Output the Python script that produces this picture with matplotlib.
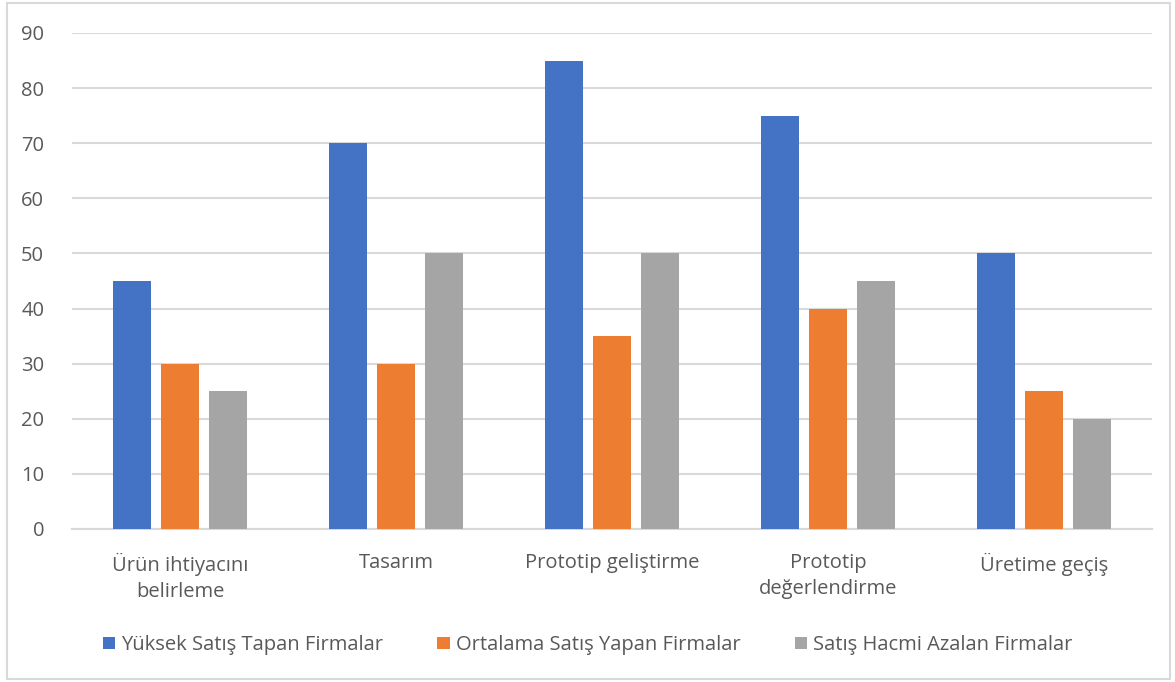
import matplotlib.pyplot as plt
import numpy as np
from matplotlib.patches import Rectangle

categories = ['Ürün ihtiyacını\nbelirleme', 'Tasarım', 'Prototip geliştirme',
              'Prototip\ndeğerlendirme', 'Üretime geçiş']
series_names = ['Yüksek Satış Tapan Firmalar', 'Ortalama Satış Yapan Firmalar',
                'Satış Hacmi Azalan Firmalar']
yuksek = [45, 70, 85, 75, 50]
ortalama = [30, 30, 35, 40, 25]
azalan = [25, 50, 50, 45, 20]
colors = ['#4472C4', '#ED7D31', '#A5A5A5']

plt.rcParams['font.family'] = ['Open Sans', 'DejaVu Sans']
txt = '#595959'

fig = plt.figure(figsize=(11.75, 6.82), dpi=100)
fig.patches.append(Rectangle((7 / 1175, 3 / 682), 1163 / 1175, 676 / 682,
                             transform=fig.transFigure, fill=False,
                             edgecolor='#D9D9D9', linewidth=1.5))
ax = fig.add_axes([72 / 1175, 1 - 529 / 682, 1080 / 1175, 496 / 682])

x = np.arange(len(categories))
width = 0.176
step = 0.222
for i, (vals, name) in enumerate(zip([yuksek, ortalama, azalan], series_names)):
    ax.bar(x + (i - 1) * step, vals, width, color=colors[i], label=name, zorder=3)

ax.set_xlim(-0.5, len(categories) - 0.5)
ax.set_ylim(0, 90)
ax.set_yticks(range(0, 91, 10))
ax.yaxis.grid(True, color='#D9D9D9', linewidth=1.5, zorder=0)
ax.set_xticks(x)
ax.set_xticklabels(categories, linespacing=1.4)
for s in ['top', 'right', 'left']:
    ax.spines[s].set_visible(False)
ax.spines['bottom'].set_color('#D9D9D9')
ax.spines['bottom'].set_linewidth(1.5)
ax.tick_params(axis='both', length=0, colors=txt, labelsize=14.5)
ax.tick_params(axis='x', pad=17)
ax.tick_params(axis='y', pad=20)

fig.legend(loc='center', bbox_to_anchor=(0.5, 1 - 645 / 682), ncol=3,
           frameon=False, fontsize=14.5, labelcolor=txt, handlelength=0.6,
           handleheight=0.6, handletextpad=0.3, columnspacing=2.7)

fig.savefig('out.png', dpi=100)
